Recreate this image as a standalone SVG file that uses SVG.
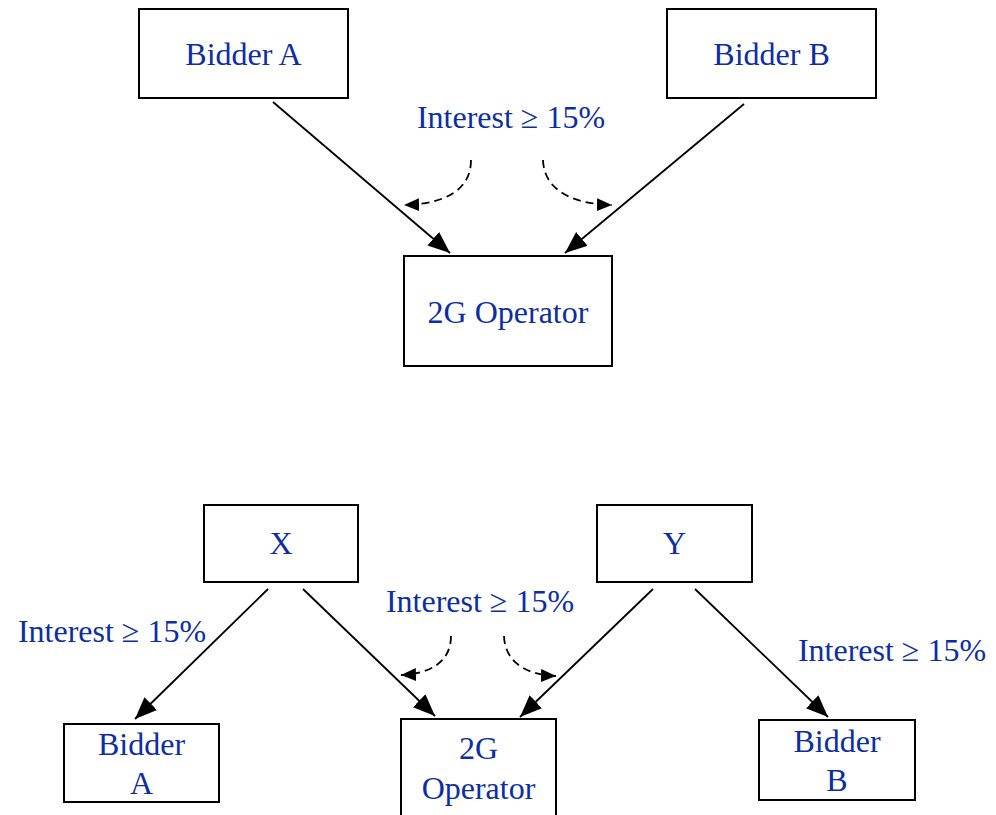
<svg xmlns="http://www.w3.org/2000/svg" width="996" height="815" viewBox="0 0 996 815">
  <style>
    .box { fill: #ffffff; stroke: #000000; stroke-width: 2; }
    .lbl { font-family: "Liberation Serif", "Times New Roman", serif; font-size: 32px; fill: #0d2ea3; text-anchor: middle; }
    .edge { fill: none; stroke: #000000; stroke-width: 1.8; }
    .dash { fill: none; stroke: #000000; stroke-width: 1.8; stroke-dasharray: 8 5; }
  </style>
  <defs>
    <marker id="head" markerUnits="userSpaceOnUse" markerWidth="24" markerHeight="20" refX="22" refY="9" orient="auto">
      <path d="M0,0 L22,9 L0,18 z" fill="#000000"/>
    </marker>
    <marker id="headSmall" markerUnits="userSpaceOnUse" markerWidth="16" markerHeight="14" refX="15" refY="6.5" orient="auto">
      <path d="M0,0 L15,6.5 L0,13 z" fill="#000000"/>
    </marker>
  </defs>
  <rect width="996" height="815" fill="#ffffff"/>

  <!-- upper structure -->
  <g id="top-bidder-a">
    <rect class="box" x="139" y="9" width="209" height="89"/>
    <text class="lbl" x="243.5" y="65">Bidder A</text>
  </g>
  <g id="top-bidder-b">
    <rect class="box" x="667" y="9" width="209" height="89"/>
    <text class="lbl" x="771.5" y="65">Bidder B</text>
  </g>
  <g id="top-operator">
    <rect class="box" x="404" y="256" width="208" height="110"/>
    <text class="lbl" x="508" y="323">2G Operator</text>
  </g>
  <g id="top-interest">
    <text class="lbl" x="511" y="128">Interest ≥ 15%</text>
  </g>

  <!-- lower structure -->
  <g id="x">
    <rect class="box" x="204" y="505" width="154" height="77"/>
    <text class="lbl" x="281" y="554">X</text>
  </g>
  <g id="y">
    <rect class="box" x="597" y="505" width="155" height="77"/>
    <text class="lbl" x="674.5" y="554">Y</text>
  </g>
  <g id="bottom-bidder-a">
    <rect class="box" x="64" y="724" width="155" height="78"/>
    <text class="lbl" x="141.5" y="755">Bidder</text>
    <text class="lbl" x="141.5" y="794">A</text>
  </g>
  <g id="bottom-operator">
    <rect class="box" x="401" y="719" width="155" height="100"/>
    <text class="lbl" x="478.5" y="759">2G</text>
    <text class="lbl" x="478.5" y="799">Operator</text>
  </g>
  <g id="bottom-bidder-b">
    <rect class="box" x="759" y="720" width="156" height="80"/>
    <text class="lbl" x="837" y="752">Bidder</text>
    <text class="lbl" x="837" y="791">B</text>
  </g>
  <g id="bottom-interest">
    <text class="lbl" x="480" y="612">Interest ≥ 15%</text>
    <text class="lbl" x="112" y="642">Interest ≥ 15%</text>
    <text class="lbl" x="892" y="661">Interest ≥ 15%</text>
  </g>

  <g id="connectors">
    <line class="edge" x1="273" y1="102" x2="450" y2="253" marker-end="url(#head)"/>
    <line class="edge" x1="744" y1="104" x2="565" y2="253" marker-end="url(#head)"/>
    <path class="dash" d="M471,160 C471,190 445,204 404,205" marker-end="url(#headSmall)"/>
    <path class="dash" d="M543,160 C544,190 572,204 612,205" marker-end="url(#headSmall)"/>

    <line class="edge" x1="268" y1="589" x2="135" y2="719" marker-end="url(#head)"/>
    <line class="edge" x1="303" y1="589" x2="435" y2="716" marker-end="url(#head)"/>
    <line class="edge" x1="653" y1="589" x2="520" y2="717" marker-end="url(#head)"/>
    <line class="edge" x1="695" y1="589" x2="828" y2="717" marker-end="url(#head)"/>
    <path class="dash" d="M451,636 C451,662 430,674 401,675" marker-end="url(#headSmall)"/>
    <path class="dash" d="M504,636 C505,662 526,675 556,676" marker-end="url(#headSmall)"/>
  </g>
</svg>
